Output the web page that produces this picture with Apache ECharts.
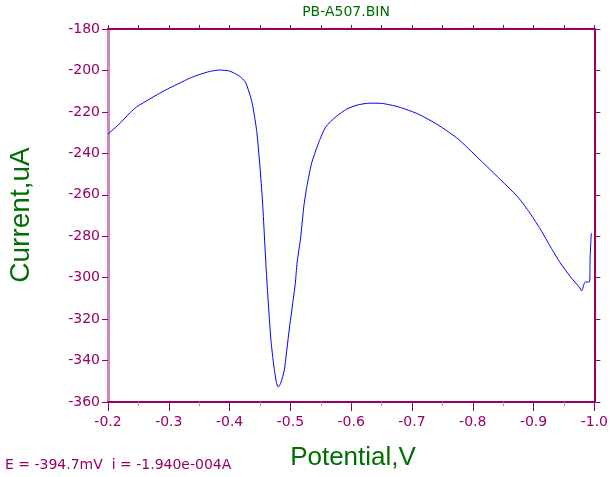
<!DOCTYPE html>
<html>
<head>
<meta charset="utf-8">
<script src="https://cdn.jsdelivr.net/npm/echarts@6/dist/echarts.min.js"></script>
<style>
  html, body { margin: 0; padding: 0; background: #ffffff; }
  #chart { width: 611px; height: 477px; }
</style>
</head>
<body>
<div id="chart"></div>
<script>
// Linear sweep voltammogram, PB-A507.BIN
var potential = [
  -0.200, -0.220, -0.236, -0.247, -0.269, -0.285, -0.301, -0.318, -0.334, -0.350,
  -0.367, -0.383, -0.400, -0.416, -0.426, -0.432, -0.437, -0.441, -0.445, -0.450,
  -0.454, -0.457, -0.460, -0.463, -0.468, -0.473, -0.477, -0.480, -0.484, -0.490,
  -0.498, -0.508, -0.511, -0.517, -0.522, -0.527, -0.535, -0.547, -0.558, -0.575,
  -0.593, -0.610, -0.629, -0.650, -0.678, -0.710, -0.743, -0.776, -0.809, -0.841,
  -0.874, -0.894, -0.912, -0.928, -0.944, -0.961, -0.975, -0.979, -0.985, -0.992,
  -0.993, -0.995
];
var currentUA = [
  -230.7, -225.4, -220.5, -217.6, -213.7, -211.0, -208.5, -206.1, -203.8, -202.0,
  -200.5, -199.8, -200.3, -202.7, -205.6, -210.4, -215.5, -222.0, -230.2, -246.6,
  -262.5, -278.4, -294.9, -309.3, -330.1, -343.1, -350.5, -352.8, -351.0, -344.6,
  -325.3, -303.0, -292.9, -280.4, -265.9, -256.2, -244.7, -234.5, -227.3, -222.3,
  -218.6, -216.7, -215.8, -215.9, -217.6, -221.0, -226.3, -233.1, -242.3, -251.4,
  -261.0, -268.8, -277.0, -285.2, -292.9, -299.7, -304.5, -306.4, -302.1, -302.1,
  -290.5, -278.5
];
var xRange = [-1.0, -0.2];
var yRange = [-360, -180];
var fileName = 'PB-A507.BIN';
var xTitle = 'Potential,V';
var yTitle = 'Current,uA';
var cursorText = 'E = -394.7mV  i = -1.940e-004A';

var purple = '#990066';
var pink = '#cc88bb';
var green = '#006e00';
var tickFont = 'DejaVu Sans';

var points = potential.map(function (v, i) { return [v, currentUA[i]]; });

var chart = echarts.init(document.getElementById('chart'), null, { renderer: 'canvas' });
chart.setOption({
  animation: false,
  backgroundColor: '#ffffff',
  grid: { left: 108, right: 14, top: 29, bottom: 75, containLabel: false },
  title: [
    {
      text: fileName, left: 346, top: 5, textAlign: 'center', padding: 0,
      textStyle: { color: green, fontFamily: tickFont, fontSize: 14, fontWeight: 'normal' }
    },
    {
      text: cursorText, left: 5, top: 458, padding: 0,
      textStyle: { color: purple, fontFamily: tickFont, fontSize: 14, fontWeight: 'normal' }
    }
  ],
  xAxis: [
    {
      type: 'value', position: 'bottom', inverse: true,
      min: xRange[0], max: xRange[1], interval: 0.1,
      axisLine: { show: true, lineStyle: { color: purple, width: 2 } },
      axisTick: { show: true, inside: false, length: 9, lineStyle: { color: purple, width: 1 } },
      minorTick: { show: true, splitNumber: 2, length: 4, lineStyle: { color: pink, width: 1 } },
      axisLabel: {
        margin: 13, color: purple, fontFamily: tickFont, fontSize: 14,
        formatter: function (v) { return v.toFixed(1); }
      },
      splitLine: { show: false }
    },
    {
      type: 'value', position: 'top', inverse: true,
      min: xRange[0], max: xRange[1], interval: 0.05,
      axisLine: { show: true, lineStyle: { color: purple, width: 2 } },
      axisTick: { show: true, inside: false, length: 4, lineStyle: { color: purple, width: 1 } },
      axisLabel: { show: false },
      splitLine: { show: false }
    }
  ],
  yAxis: [
    {
      type: 'value', position: 'left',
      min: yRange[0], max: yRange[1], interval: 20,
      axisLine: { show: true, lineStyle: { color: pink, width: 3 } },
      axisTick: { show: true, inside: false, length: 6, lineStyle: { color: purple, width: 1 } },
      axisLabel: { margin: 8, color: purple, fontFamily: tickFont, fontSize: 14 },
      splitLine: { show: false }
    },
    {
      type: 'value', position: 'right',
      min: yRange[0], max: yRange[1], interval: 20,
      axisLine: { show: true, lineStyle: { color: purple, width: 2 } },
      axisTick: { show: true, inside: false, length: 6, lineStyle: { color: purple, width: 1 } },
      axisLabel: { show: false },
      splitLine: { show: false }
    }
  ],
  graphic: [
    {
      type: 'text', x: 353, y: 458,
      style: { text: xTitle, fill: green, font: '26px "Liberation Sans", Arial, sans-serif',
               align: 'center', verticalAlign: 'middle' }
    },
    {
      type: 'text', x: 21, y: 215, rotation: Math.PI / 2,
      style: { text: yTitle, fill: green, font: '28px "Liberation Sans", Arial, sans-serif',
               align: 'center', verticalAlign: 'middle' }
    }
  ],
  series: [
    {
      type: 'line', xAxisIndex: 0, yAxisIndex: 0,
      data: points, showSymbol: false,
      smooth: 0.2,
      lineStyle: { color: '#0000ff', width: 1 },
      emphasis: { disabled: true }
    }
  ]
});
</script>
</body>
</html>
